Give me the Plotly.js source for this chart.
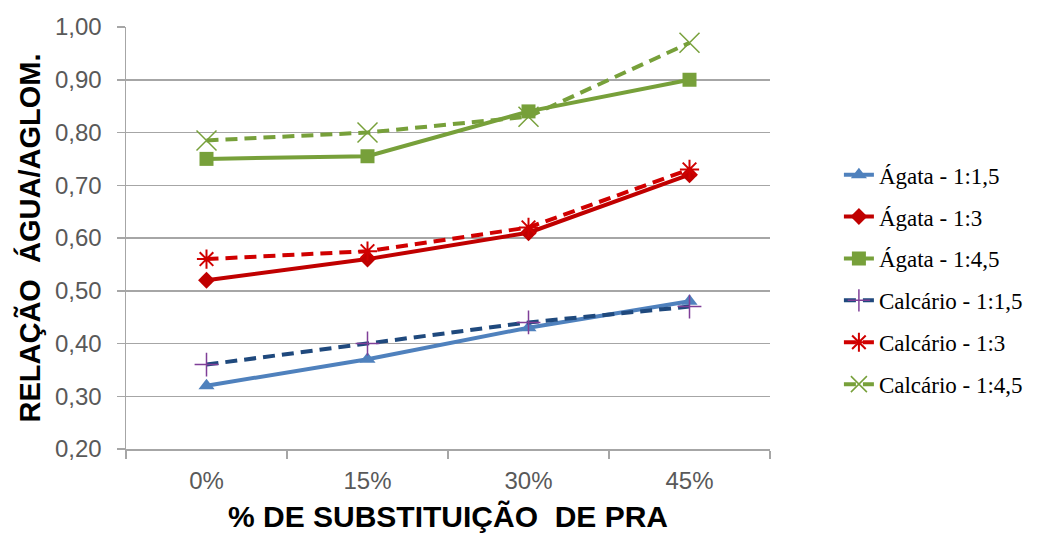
<!DOCTYPE html>
<html>
<head>
<meta charset="utf-8">
<script src="https://cdn.plot.ly/plotly-3.0.1.min.js"></script>
<style>
  html, body { margin: 0; padding: 0; background: #fff; }
  #chart { width: 1044px; height: 533px; }
</style>
</head>
<body>
<div id="chart"></div>
<script>
// Replacement levels of PRA (categories on the x axis)
const categories = ["0%", "15%", "30%", "45%"];

// Water/binder ratio for each mix
const agata_1_1_5    = [0.32, 0.37, 0.43, 0.48];
const agata_1_3      = [0.52, 0.56, 0.61, 0.72];
const agata_1_4_5    = [0.75, 0.755, 0.84, 0.90];
const calcario_1_1_5 = [0.36, 0.40, 0.44, 0.47];
const calcario_1_3   = [0.56, 0.575, 0.62, 0.73];
const calcario_1_4_5 = [0.785, 0.80, 0.83, 0.97];

const seriesNames = [
  "Ágata - 1:1,5", "Ágata - 1:3", "Ágata - 1:4,5",
  "Calcário - 1:1,5", "Calcário - 1:3", "Calcário - 1:4,5"
];

const yTickVals = [0.2, 0.3, 0.4, 0.5, 0.6, 0.7, 0.8, 0.9, 1.0];
const yTickText = ["0,20", "0,30", "0,40", "0,50", "0,60", "0,70", "0,80", "0,90", "1,00"];

const DASH = "12px,7px";
const SANS = "Liberation Sans, Arial, sans-serif";
const SERIF = "Liberation Serif, Times New Roman, serif";

function trace(name, y, lineColor, dash, marker) {
  return {
    type: "scatter",
    mode: "lines+markers",
    name: name,
    legendgroup: name,
    x: categories,
    y: y,
    line: { color: lineColor, width: 4, dash: dash },
    marker: marker,
    cliponaxis: false
  };
}

const data = [
  trace(seriesNames[0], agata_1_1_5, "#4F81BD", "solid",
        { symbol: "triangle-up", size: 14, color: "#4F81BD" }),
  trace(seriesNames[1], agata_1_3, "#C00000", "solid",
        { symbol: "diamond", size: 13, color: "#C00000" }),
  trace(seriesNames[2], agata_1_4_5, "#77A03A", "solid",
        { symbol: "square", size: 14, color: "#77A03A" }),
  trace(seriesNames[3], calcario_1_1_5, "#1F497D", DASH,
        { symbol: "cross-thin", size: 17, color: "#7F3F98", line: { color: "#7F3F98", width: 1.5 } }),
  trace(seriesNames[4], calcario_1_3, "#D00000", DASH,
        { symbol: "asterisk", size: 16, color: "#D00000", line: { color: "#D00000", width: 2 } }),
  trace(seriesNames[5], calcario_1_4_5, "#77A03A", DASH,
        { symbol: "x-thin", size: 20, color: "#77A03A", line: { color: "#77A03A", width: 1.5 } })
];

const layout = {
  width: 1044,
  height: 533,
  paper_bgcolor: "#ffffff",
  plot_bgcolor: "#ffffff",
  margin: { l: 126, r: 274, t: 27, b: 84 },
  font: { family: SANS, color: "#595959" },
  showlegend: true,
  legend: {
    x: 1.107, y: 0.701,
    xanchor: "left", yanchor: "top",
    font: { family: SERIF, size: 23, color: "#000000" },
    tracegroupgap: 9,
    bgcolor: "rgba(0,0,0,0)"
  },
  xaxis: {
    type: "category",
    categoryorder: "array",
    categoryarray: categories,
    range: [-0.5, 3.5],
    showgrid: false,
    showline: true,
    linecolor: "#A6A6A6",
    linewidth: 1.5,
    ticks: "outside",
    tickson: "boundaries",
    ticklen: 8,
    tickcolor: "#A6A6A6",
    tickwidth: 1.5,
    ticklabelstandoff: 10,
    tickfont: { family: SANS, size: 24, color: "#595959" },
    title: {
      text: "% DE SUBSTITUIÇÃO\u00a0\u00a0DE PRA",
      font: { family: SANS, size: 30, color: "#000000", weight: "bold" },
      standoff: 17
    },
    zeroline: false,
    fixedrange: true
  },
  yaxis: {
    range: [0.2, 1.0],
    tickvals: yTickVals,
    ticktext: yTickText,
    showgrid: true,
    gridcolor: "#A6A6A6",
    gridwidth: 1.5,
    showline: true,
    linecolor: "#A6A6A6",
    linewidth: 1.5,
    ticks: "outside",
    ticklen: 8,
    tickcolor: "#A6A6A6",
    tickwidth: 1.5,
    ticklabelstandoff: 10,
    tickfont: { family: SANS, size: 24, color: "#595959" },
    title: {
      text: "RELAÇÃO\u00a0\u00a0ÁGUA/AGLOM.",
      font: { family: SANS, size: 29, color: "#000000", weight: "bold" },
      standoff: 6
    },
    zeroline: false,
    fixedrange: true
  }
};

Plotly.newPlot("chart", data, layout, { displayModeBar: false, staticPlot: true });
</script>
</body>
</html>
